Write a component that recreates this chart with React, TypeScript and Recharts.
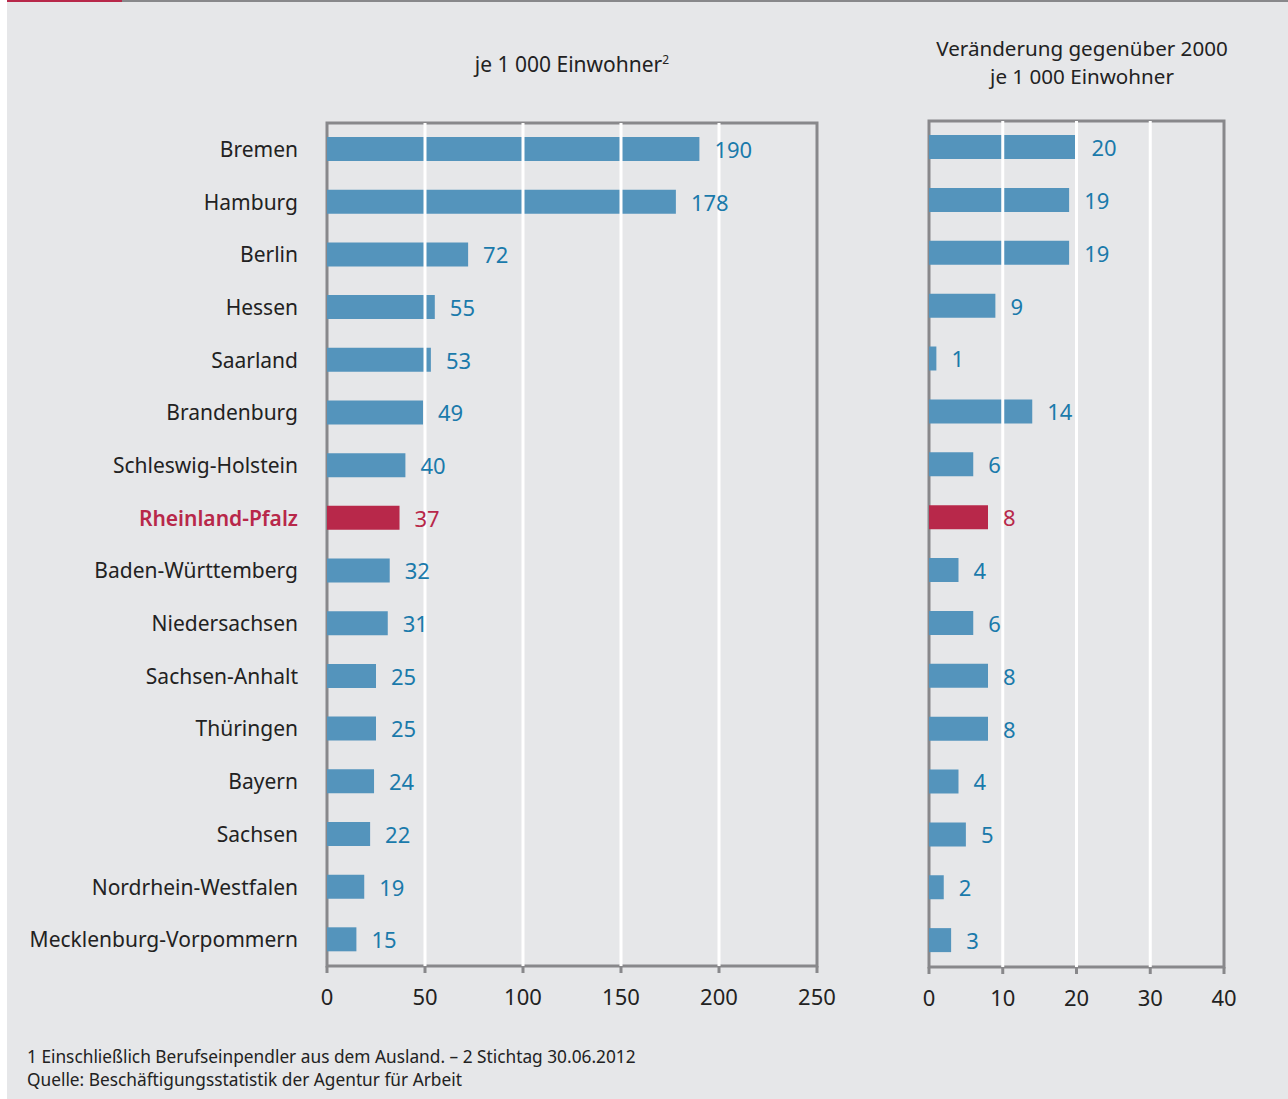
import React from 'react'
import { BarChart, Bar, XAxis, YAxis, Cell, LabelList, ReferenceLine, ReferenceArea } from 'recharts'

const states = [
  'Bremen', 'Hamburg', 'Berlin', 'Hessen', 'Saarland', 'Brandenburg', 'Schleswig-Holstein',
  'Rheinland-Pfalz', 'Baden-Württemberg', 'Niedersachsen', 'Sachsen-Anhalt', 'Thüringen',
  'Bayern', 'Sachsen', 'Nordrhein-Westfalen', 'Mecklenburg-Vorpommern',
]
const perThousand = [190, 178, 72, 55, 53, 49, 40, 37, 32, 31, 25, 25, 24, 22, 19, 15]
const change2000 = [20, 19, 19, 9, 1, 14, 6, 8, 4, 6, 8, 8, 4, 5, 2, 3]
const highlight = 'Rheinland-Pfalz'
const leftTicks = [0, 50, 100, 150, 200, 250]
const rightTicks = [0, 10, 20, 30, 40]

const BG = '#e6e7e9'
const FRAME = '#88888b'
const BLUE = '#5494bc'
const RED = '#b8284a'
const BLUE_TEXT = '#1a7aab'
const FONT = '"Noto Sans", "Open Sans", sans-serif'

const leftData = states.map((s, i) => ({ name: s, value: perThousand[i] }))
const rightData = states.map((s, i) => ({ name: s, value: change2000[i] }))

const valueLabel = (data: any[]) => (props: any) => {
  const { x, y, width, height, value, index } = props
  const red = data[index]?.name === highlight
  return (
    <text x={x + width + 15} y={y + height / 2 + 1} dy="0.36em" fontSize={22} fontFamily={FONT}
      fill={red ? RED : BLUE_TEXT}>{value}</text>
  )
}

const StateTick = (props: any) => {
  const { x, y, payload } = props
  const red = payload.value === highlight
  return (
    <text x={x} y={y} dy="0.36em" textAnchor="end" fontSize={21} fontFamily={FONT}
      fill={red ? RED : '#222'} fontWeight={red ? 600 : 400}>{payload.value}</text>
  )
}

const tickStyle = { fontSize: 22, fontFamily: FONT, fill: '#222' }

const Panel = ({ data, max, ticks, grid, width, margin, showNames }: any) => (
  <BarChart width={width} height={1040} data={data} layout="vertical" margin={margin} barSize={24}>
    <XAxis type="number" domain={[0, max]} ticks={ticks} axisLine={false} tickLine={{ stroke: FRAME, strokeWidth: 3 }}
      tickSize={7} tickMargin={16} tick={tickStyle} height={40} interval={0} />
    <YAxis type="category" dataKey="name" hide={!showNames} width={showNames ? 327 : 0}
      axisLine={false} tickLine={false} tickSize={0} tickMargin={29} tick={<StateTick />} interval={0} />
    <Bar dataKey="value" isAnimationActive={false}>
      {data.map((d: any) => (
        <Cell key={d.name} fill={d.name === highlight ? RED : BLUE} />
      ))}
      <LabelList dataKey="value" content={valueLabel(data)} />
    </Bar>
    {grid.map((g: number) => (
      <ReferenceLine key={g} x={g} stroke="#ffffff" strokeWidth={3} />
    ))}
    <ReferenceArea x1={0} x2={max} fill="none" stroke={FRAME} strokeWidth={3} />
  </BarChart>
)

export default function App() {
  return (
    <div style={{ position: 'relative', width: 1288, height: 1099, background: BG, fontFamily: FONT, color: '#222', overflow: 'hidden' }}>
      <style>{'body{margin:0}'}</style>
      <div style={{ position: 'absolute', left: 0, top: 0, width: 7, height: 1099, background: '#fff' }} />
      <div style={{ position: 'absolute', left: 7, top: 0, width: 1281, height: 2, background: FRAME }} />
      <div style={{ position: 'absolute', left: 7, top: 0, width: 115, height: 2, background: RED }} />

      <div style={{ position: 'absolute', left: 372, top: 50, width: 400, textAlign: 'center', fontSize: 21 }}>
        je 1 000 Einwohner<sup style={{ fontSize: 12 }}>2</sup>
      </div>
      <div style={{ position: 'absolute', left: 882, top: 34, width: 400, textAlign: 'center', fontSize: 20.6, lineHeight: '28px' }}>
        Veränderung gegenüber 2000<br />je 1 000 Einwohner
      </div>

      <div style={{ position: 'absolute', left: 0, top: 0 }}>
        <Panel data={leftData} max={250} ticks={leftTicks} grid={[50, 100, 150, 200]} width={850}
          margin={{ top: 123, right: 33, bottom: 34, left: 0 }} showNames />
      </div>
      <div style={{ position: 'absolute', left: 880, top: 0 }}>
        <Panel data={rightData} max={40} ticks={rightTicks} grid={[10, 20, 30]} width={408}
          margin={{ top: 121, right: 64, bottom: 33, left: 49 }} showNames={false} />
      </div>

      <div style={{ position: 'absolute', left: 27, top: 1045, fontSize: 17.3, lineHeight: '23px' }}>
        1 Einschließlich Berufseinpendler aus dem Ausland. – 2 Stichtag 30.06.2012<br />
        Quelle: Beschäftigungsstatistik der Agentur für Arbeit
      </div>
    </div>
  )
}
